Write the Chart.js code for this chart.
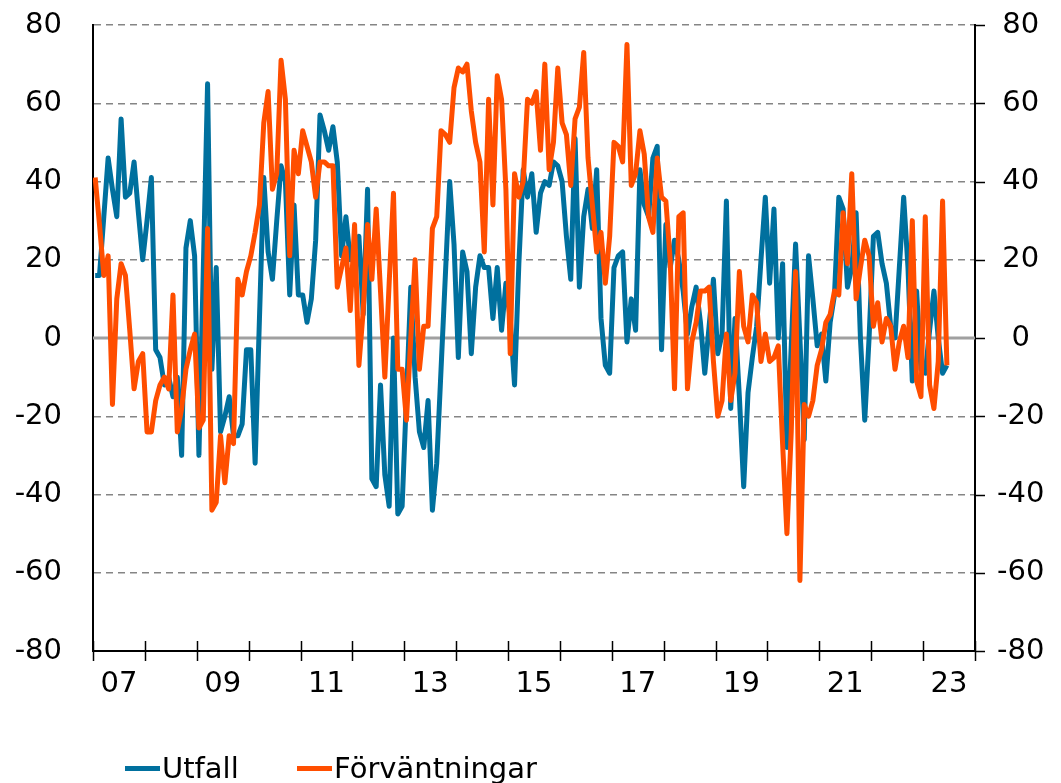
<!DOCTYPE html>
<html>
<head>
<meta charset="utf-8">
<script src="https://cdn.jsdelivr.net/npm/chart.js@4.4.1/dist/chart.umd.min.js"></script>
<style>
  body { margin: 0; background: #fff; }
  #wrap { position: relative; width: 1061px; height: 783px; }
  .item { position: absolute; top: 748px; height: 40px; display: flex; align-items: center;
          font: 29px "DejaVu Sans", Verdana, sans-serif; color: #000; }
  .swatch { width: 35px; height: 5px; margin-right: 2px; }
</style>
</head>
<body>
<div id="wrap">
  <canvas id="myChart" width="1061" height="783"></canvas>
  <div class="item" style="left:125px"><span class="swatch" style="background:#00709e"></span>Utfall</div>
  <div class="item" style="left:297px"><span class="swatch" style="background:#ff4e00"></span>Förväntningar</div>
</div>
<script>
// monthly series, Jan 2007 onwards, one row per year
var startYear = 2007;
var utfall = [
    16, 16, 31, 46, 38, 31, 56, 36, 37, 45, 32, 20,
    30, 41, -3, -5, -12, -10, -15, -10, -30, 23, 30, 21,
    -30, 17, 65, -8, 18, -24, -20, -15, -25, -25, -22, -3,
    -3, -32, 5, 41, 22, 15, 30, 44, 40, 11, 34, 11,
    11, 4, 10, 25, 57, 53, 48, 54, 45, 21, 31, 20,
    23, 26, 6, 38, -36, -38, -12, -35, -43, 0, -45, -43,
    -15, 13, -10, -24, -28, -16, -44, -32, -8, 16, 40, 24,
    -5, 22, 17, -4, 13, 21, 18, 18, 5, 18, 2, 14,
    5, -12, 19, 43, 36, 42, 27, 37, 40, 39, 45, 44,
    40, 26, 15, 51, 13, 31, 38, 28, 43, 5, -7, -9,
    18, 21, 22, -1, 10, 2, 43, 34, 31, 46, 49, -3,
    29, 18, 25, 20, 12, 1, 8, 13, 4, -9, 3, 15,
    -4, 1, 35, -18, 5, -15, -38, -14, -5, 3, 20, 36,
    14, 33, 0, 19, -28, -2, 24, 0, -26, 21, 10, -2,
    1, -11, 4, 11, 36, 33, 13, 18, 32, 0, -21, 0,
    26, 27, 19, 14, 3, 0, 18, 36, 18, -11, 12, -8,
    -9, 2, 12, 0, -9, -7
];
var forvantningar = [
    41, 29, 16, 21, -17, 10, 19, 16, 2, -13, -6, -4,
    -24, -24, -16, -12, -10, -13, 11, -24, -18, -8, -3, 1,
    -23, -21, 28, -44, -42, -25, -37, -25, -27, 15, 11, 17,
    21, 27, 34, 55, 63, 38, 42, 71, 61, 21, 48, 42,
    53, 49, 45, 36, 45, 45, 44, 44, 13, 18, 23, 7,
    29, -7, 7, 29, 15, 33, 12, -10, 14, 37, -8, -8,
    -21, 0, 20, -8, 3, 3, 28, 31, 53, 52, 50, 64,
    69, 68, 70, 58, 50, 45, 22, 61, 34, 67, 61, 38,
    -4, 42, 36, 40, 61, 60, 63, 48, 70, 43, 50, 69,
    55, 52, 39, 56, 59, 73, 46, 34, 22, 27, 14, 26,
    50, 49, 45, 75, 39, 42, 53, 47, 31, 27, 46, 36,
    35, 20, -13, 31, 32, -13, -1, 4, 12, 12, 13, -6,
    -20, -16, 1, -16, -9, 17, 3, -1, 11, 9, -6, 1,
    -6, -5, -2, -27, -50, -24, 17, -62, -17, -20, -16, -7,
    -3, 4, 6, 12, 11, 32, 19, 42, 10, 18, 25, 21,
    3, 9, -1, 5, 3, -8, -1, 3, -5, 30, -11, -15,
    31, -12, -18, -6, 35, -7
];
var yearLabels = ['07', '09', '11', '13', '15', '17', '19', '21', '23'];
var endYear = 2024;

function toPoints(arr) {
    return arr.map(function (v, i) {
        return {x: startYear + (i + 0.5) / 12, y: v};
    });
}

var font = {family: '"DejaVu Sans", Verdana, sans-serif', size: 29};

// year ticks crossing the x axis, right-hand tick marks and the solid zero line
var axisMarks = {
    id: 'axisMarks',
    beforeDatasetsDraw: function (chart) {
        var c = chart.ctx, a = chart.chartArea;
        var y0 = chart.scales.y.getPixelForValue(0);
        c.save();
        c.strokeStyle = '#a0a0a0';
        c.lineWidth = 3;
        c.beginPath();
        c.moveTo(a.left, y0);
        c.lineTo(a.right, y0);
        c.stroke();
        c.restore();
    },
    afterDraw: function (chart) {
        var c = chart.ctx, xs = chart.scales.x, ys = chart.scales.y2, a = chart.chartArea;
        c.save();
        c.strokeStyle = '#000';
        c.lineWidth = 1.5;
        for (var yr = startYear; yr <= endYear; yr++) {
            var px = Math.round(xs.getPixelForValue(yr)) + 0.5;
            c.beginPath();
            c.moveTo(px, a.bottom - 10);
            c.lineTo(px, a.bottom + 10);
            c.stroke();
        }
        ys.ticks.forEach(function (t) {
            var py = Math.round(ys.getPixelForValue(t.value)) + 0.5;
            c.beginPath();
            c.moveTo(a.right, py);
            c.lineTo(a.right + 10, py);
            c.stroke();
        });
        c.restore();
    }
};

var ctx = document.getElementById('myChart');
var chart = new Chart(ctx, {
    type: 'line',
    data: {
        datasets: [
            {
                label: 'Utfall',
                data: toPoints(utfall),
                borderColor: '#00709e',
                borderWidth: 5,
                pointRadius: 0,
                tension: 0,
                borderJoinStyle: 'round',
                order: 1
            },
            {
                label: 'Förväntningar',
                data: toPoints(forvantningar),
                borderColor: '#ff4e00',
                borderWidth: 5,
                pointRadius: 0,
                tension: 0,
                borderJoinStyle: 'round',
                order: 0
            }
        ]
    },
    options: {
        responsive: false,
        animation: false,
        layout: {padding: {top: 25, left: 0, right: 0, bottom: 0}},
        plugins: {
            legend: {display: false},
            tooltip: {enabled: false}
        },
        scales: {
            x: {
                type: 'linear',
                min: startYear,
                max: endYear,
                afterBuildTicks: function (scale) {
                    var t = [];
                    for (var yr = startYear; yr <= endYear; yr++) t.push({value: yr});
                    yearLabels.forEach(function (l) {
                        t.push({value: 2000 + parseInt(l, 10) + 0.5});
                    });
                    t.sort(function (p, q) { return p.value - q.value; });
                    scale.ticks = t;
                },
                afterFit: function (scale) { scale.height = 132; },
                grid: {display: false, drawTicks: false},
                border: {display: true, color: '#000', width: 2},
                ticks: {
                    autoSkip: false,
                    maxRotation: 0,
                    padding: 16,
                    color: '#000',
                    font: font,
                    callback: function (value) {
                        if (value % 1 === 0) return '';
                        return String(Math.floor(value)).slice(2);
                    }
                }
            },
            y: {
                position: 'left',
                min: -80,
                max: 80,
                afterFit: function (scale) { scale.width = 93; },
                grid: {
                    color: function (c) { return c.tick && c.tick.value === 0 ? 'rgba(0,0,0,0)' : '#858585'; },
                    lineWidth: 1.5,
                    drawTicks: true,
                    tickLength: 31,
                    tickColor: 'rgba(0,0,0,0)'
                },
                border: {
                    display: true,
                    color: '#000',
                    width: 2,
                    dash: [7, 5]
                },
                ticks: {
                    stepSize: 20,
                    padding: 0,
                    color: '#000',
                    font: font
                }
            },
            y2: {
                position: 'right',
                min: -80,
                max: 80,
                afterFit: function (scale) { scale.width = 86; },
                grid: {
                    drawOnChartArea: false,
                    drawTicks: true,
                    tickLength: 22,
                    tickColor: 'rgba(0,0,0,0)'
                },
                border: {display: true, color: '#000', width: 2},
                ticks: {
                    stepSize: 20,
                    padding: 0,
                    crossAlign: 'center',
                    color: '#000',
                    font: font
                }
            }
        }
    },
    plugins: [axisMarks]
});
</script>
</body>
</html>
